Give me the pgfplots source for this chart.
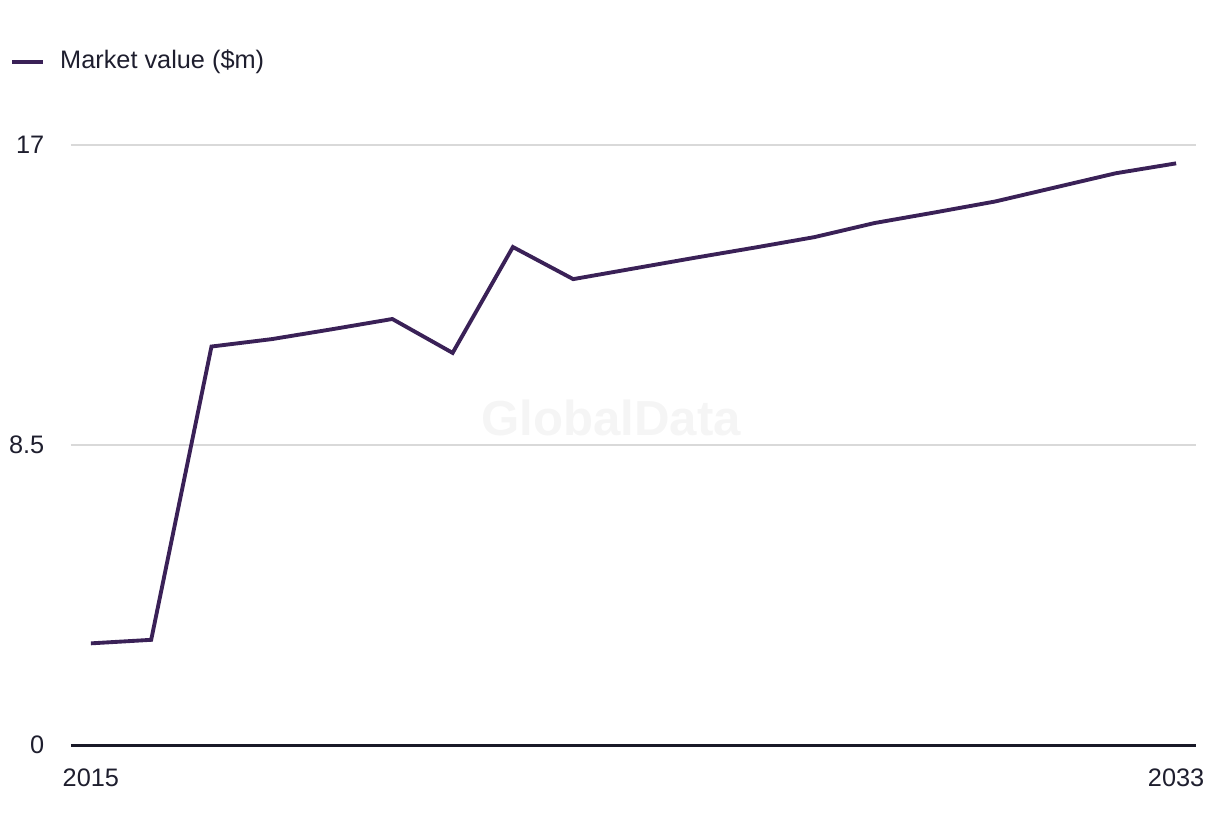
\documentclass[border=0pt]{standalone}
\usepackage{fontspec}
\setmainfont{Liberation Sans}
\usepackage{pgfplots}
\pgfplotsset{compat=1.18}

\definecolor{serieslc}{RGB}{58,33,87}
\definecolor{txt}{RGB}{30,30,46}
\definecolor{axisdark}{RGB}{25,25,40}
\definecolor{gridgray}{RGB}{217,217,217}
\definecolor{wmark}{RGB}{245,245,245}

\begin{document}
\begin{tikzpicture}
\path[use as bounding box] (0,0) rectangle (12.2cm,8.36cm);
\begin{axis}[
  at={(0.71cm,0.91cm)}, anchor=south west,
  scale only axis, width=11.25cm, height=6cm,
  xmin=2014.67, xmax=2033.33, ymin=0, ymax=17,
  axis line style={draw=none},
  major tick length=0pt,
  xtick={2015,2033}, xticklabels={2015,2033},
  ytick={0,8.5,17}, yticklabels={0,8.5,17},
  ymajorgrids, grid style={color=gridgray, line width=0.55pt},
  /pgf/number format/assume math mode=true,
  tick label style={font=\fontsize{7.2}{8.6}\selectfont, text=txt, inner sep=0pt},
  yticklabel style={anchor=east, xshift=-0.26cm},
  xticklabel style={anchor=north, yshift=-0.23cm},
  legend style={draw=none, fill=none, inner sep=0pt, outer sep=0pt,
    at={(-0.0542,1.1383)}, anchor=west,
    font=\fontsize{7.2}{8.6}\selectfont, text=txt,
    nodes={inner sep=0pt}},
  legend cell align=left,
  legend image code/.code={\draw[#1, line width=1.3pt] (0cm,0cm) -- (0.31cm,0cm); \path (0.46cm,0cm);},
  clip=false,
]
\node[font=\fontsize{14}{16}\selectfont\bfseries, text=wmark] at (rel axis cs:0.48,0.545) {GlobalData};
\addplot[serieslc, line width=1.1pt] coordinates {
  (2015,2.88) (2016,2.98) (2017,11.29) (2018,11.50) (2019,11.78)
  (2020,12.07) (2021,11.11) (2022,14.11) (2023,13.20) (2024,13.50)
  (2025,13.80) (2026,14.09) (2027,14.39) (2028,14.79) (2029,15.09)
  (2030,15.40) (2031,15.80) (2032,16.20) (2033,16.48)
};
\addlegendentry{Market value (\$m)}
\draw[axisdark, line width=0.85pt] (rel axis cs:0,0) -- (rel axis cs:1,0);
\end{axis}
\end{tikzpicture}
\end{document}
